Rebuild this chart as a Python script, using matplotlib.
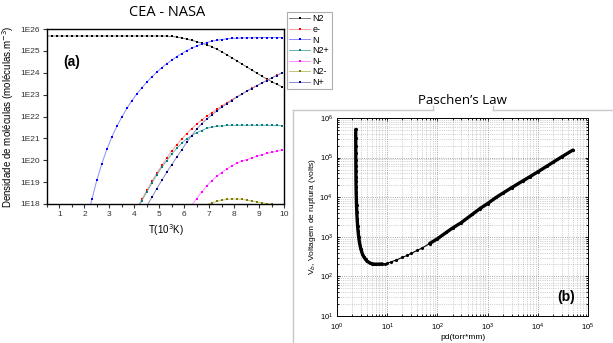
import numpy as np
import matplotlib
matplotlib.use("Agg")
import matplotlib.pyplot as plt
from matplotlib.lines import Line2D
from matplotlib.ticker import FixedLocator, MultipleLocator, FuncFormatter

plt.rcParams['font.family'] = ['Liberation Sans', 'DejaVu Sans']

# ---- (a) CEA - NASA : log10 of densities, markers every 0.2 (10^3 K)
T_grid = np.round(np.arange(0.5, 10.0, 0.2), 1)

n2_log = [25.68, 25.68, 25.68, 25.68, 25.68, 25.68, 25.68, 25.68, 25.68, 25.68,
          25.68, 25.68, 25.68, 25.68, 25.68, 25.68, 25.68, 25.68, 25.68, 25.68,
          25.68, 25.68, 25.68, 25.68, 25.67, 25.66, 25.63, 25.59, 25.54, 25.48,
          25.42, 25.36, 25.28, 25.19, 25.08, 24.96, 24.83, 24.69, 24.55, 24.41,
          24.27, 24.13, 23.99, 23.85, 23.72, 23.60, 23.48, 23.37]
n_log = [17.3, 18.22, 19.1, 19.85, 20.5, 21.07, 21.55, 21.98, 22.37, 22.72,
         23.03, 23.31, 23.57, 23.81, 24.03, 24.23, 24.41, 24.58, 24.74, 24.88,
         25.01, 25.12, 25.22, 25.31, 25.38, 25.44, 25.48, 25.52, 25.55, 25.57,
         25.58, 25.59, 25.6, 25.6, 25.61, 25.61, 25.61, 25.61, 25.61, 25.61]
e_log = [17.8, 18.21, 18.62, 19.03, 19.41, 19.76, 20.11, 20.42, 20.71, 20.97,
         21.22, 21.45, 21.65, 21.84, 22.01, 22.18, 22.33, 22.48, 22.62, 22.76,
         22.9, 23.03, 23.16, 23.29, 23.41, 23.53, 23.65, 23.77, 23.88, 23.99]
n2p_log = [17.75, 18.15, 18.55, 18.95, 19.33, 19.68, 19.98, 20.28, 20.55, 20.78,
           20.98, 21.13, 21.26, 21.36, 21.46, 21.51, 21.55, 21.57, 21.59, 21.6,
           21.6, 21.6, 21.6, 21.6, 21.6, 21.6, 21.6, 21.59, 21.59, 21.58]
np_log = [17.9, 18.3, 18.7, 19.08, 19.45, 19.8, 20.14, 20.48, 20.82, 21.13,
          21.42, 21.67, 21.88, 22.07, 22.25, 22.42, 22.58, 22.73, 22.88, 23.01,
          23.15, 23.28, 23.4, 23.52, 23.64, 23.76, 23.87, 23.98]
nm_log = [17.6, 17.95, 18.25, 18.55, 18.82, 19.06, 19.26, 19.44, 19.6, 19.74,
          19.86, 19.95, 20.03, 20.1, 20.18, 20.25, 20.31, 20.36, 20.41, 20.45]
n2m_log = [17.97, 18.05, 18.12, 18.17, 18.21, 18.23, 18.23, 18.21, 18.18, 18.14,
           18.1, 18.06, 18.02, 17.98, 17.94, 17.9]

species = ['N2', 'e-', 'N', 'N2+', 'N-', 'N2-', 'N+']
series = [n2_log, e_log, n_log, n2p_log, nm_log, n2m_log, np_log]
marker_cols = ['#000000', '#ff0000', '#0000ff', '#008080', '#ff00ff', '#808000', '#000080']
line_cols = ['#7a7a7a', '#ff9a9a', '#8c8cff', '#70b0b0', '#ff8cff', '#c4c480', '#8c8cc4']
ytick_vals = [18, 19, 20, 21, 22, 23, 24, 25, 26]

# ---- (b) Paschen's law
pd_vals = [2.36, 2.362, 2.365, 2.368, 2.372, 2.376, 2.38, 2.385, 2.39, 2.40,
           2.41, 2.43, 2.45, 2.48, 2.52, 2.57, 2.63, 2.7, 2.8, 2.9,
           3.0, 3.2, 3.4, 3.7, 4.0, 4.5, 5.0, 5.5, 6.0, 7.0,
           8.0, 9.0, 10, 12, 15, 20, 25, 30, 40, 50,
           70, 100, 150, 200, 300, 500, 700, 1000, 1500, 2000,
           3000, 5000, 7000, 10000, 15000, 20000, 30000, 50000]
vb_log = [5.71, 5.5, 5.3, 5.12, 4.95, 4.8, 4.66, 4.52, 4.4, 4.25,
          4.12, 3.95, 3.8, 3.62, 3.45, 3.28, 3.14, 3.0, 2.86, 2.76,
          2.68, 2.57, 2.5, 2.43, 2.38, 2.34, 2.32, 2.31, 2.31, 2.31,
          2.315, 2.32, 2.33, 2.37, 2.41, 2.48, 2.53, 2.58, 2.66, 2.72,
          2.83, 2.95, 3.11, 3.22, 3.36, 3.57, 3.71, 3.84, 4.0, 4.1,
          4.24, 4.41, 4.52, 4.64, 4.78, 4.88, 5.02, 5.19]

W, H = 613, 343
fig = plt.figure(figsize=(W / 100, H / 100), dpi=100)

# ---------------- left chart
ax = fig.add_axes([47 / W, 1 - 204 / H, 237 / W, 175 / H])
for name, vals, mc, lc in zip(species, series, marker_cols, line_cols):
    t = T_grid[len(T_grid) - len(vals):]
    ax.plot(t, 10 ** np.array(vals), color=lc, lw=0.7, marker='s', ms=1.6,
            mfc=mc, mec=mc, mew=0, label=name)
ax.set_yscale('log')
ax.set_xlim(0.5, 10)
ax.set_ylim(1e18, 1e26)
ax.yaxis.set_major_locator(FixedLocator([10.0 ** v for v in ytick_vals]))
ax.yaxis.set_minor_locator(FixedLocator([]))
ax.yaxis.set_major_formatter(FuncFormatter(lambda v, p: '1E%d' % round(np.log10(v))))
ax.xaxis.set_major_locator(MultipleLocator(1))
ax.xaxis.set_minor_locator(MultipleLocator(0.5))
ax.tick_params(which='both', labelsize=6, colors='#333333', direction='out',
               length=3, width=0.8, pad=2)
ax.tick_params(which='minor', length=2)
for s in ax.spines.values():
    s.set_linewidth(1.0)
ax.set_xlabel('T(10$^3$K)', fontsize=7, labelpad=3)
ax.set_ylabel('Densidade de moléculas (moléculas.m$^{-3}$)', fontsize=7, labelpad=3)
ax.text(0.07, 0.79, '(a)', transform=ax.transAxes, fontsize=10, fontweight='bold')
fig.text(167 / W, 1 - 13 / H, 'CEA - NASA', ha='center', va='center',
         fontsize=10.5, family=['Open Sans', 'DejaVu Sans'])

handles, labels = ax.get_legend_handles_labels()
leg = fig.legend(handles, labels, loc='upper left', bbox_to_anchor=(287 / W, 1 - 12 / H),
                 fontsize=6.5, frameon=True, fancybox=False, edgecolor='#999999',
                 handlelength=2.3, handletextpad=0.3, labelspacing=0.18,
                 borderpad=0.25, borderaxespad=0)
leg.get_frame().set_linewidth(0.8)
for h in leg.legend_handles:
    h.set_markersize(2)

# ---------------- right panel frame
frame_col = '#c8c8c8'
fig.add_artist(Line2D([293 / W, 293 / W], [0, 1 - 110 / H], color=frame_col, lw=1))
fig.add_artist(Line2D([293 / W, 433 / W], [1 - 110 / H, 1 - 110 / H], color=frame_col, lw=1))
fig.add_artist(Line2D([433 / W, 433 / W], [1 - 110 / H, 1 - 106 / H], color=frame_col, lw=1))
fig.add_artist(Line2D([493 / W, 493 / W], [1 - 106 / H, 1 - 110 / H], color=frame_col, lw=1))
fig.add_artist(Line2D([493 / W, 1], [1 - 110 / H, 1 - 110 / H], color=frame_col, lw=1))
fig.text(462 / W, 1 - 101 / H, 'Paschen\u2019s Law', ha='center', va='center',
         fontsize=9.5, family=['Open Sans', 'DejaVu Sans'])

# ---------------- right chart
bx = fig.add_axes([337 / W, 1 - 316 / H, 251 / W, 198 / H])
pd_arr = np.array(pd_vals)
vb_arr = 10 ** np.array(vb_log)
bx.plot(pd_arr, vb_arr, color='black', lw=0.8, marker='.', ms=2.5)
dense = (pd_arr < 9) | (pd_arr > 60)
bx.plot(np.where(dense, pd_arr, np.nan), np.where(dense, vb_arr, np.nan),
        color='black', lw=2.4, solid_capstyle='round')
bx.set_xscale('log')
bx.set_yscale('log')
bx.set_xlim(1, 1e5)
bx.set_ylim(10, 1e6)
bx.grid(True, which='major', ls=':', color='#888888', lw=0.6)
bx.grid(True, which='minor', ls=':', color='#aaaaaa', lw=0.5)
bx.tick_params(which='both', labelsize=5.5, direction='in', top=True, right=True,
               length=2.5, width=0.6, pad=2)
bx.tick_params(axis='x', which='both', pad=4)
bx.tick_params(axis='y', which='both', pad=3)
bx.tick_params(which='minor', length=1.5)
for s in bx.spines.values():
    s.set_linewidth(0.7)
bx.set_xlabel('pd(torr*mm)', fontsize=6, labelpad=1)
bx.set_ylabel('V$_b$, Voltagem de ruptura (volts)', fontsize=6, labelpad=1)
bx.text(0.912, 0.096, '(b)', transform=bx.transAxes, fontsize=10, fontweight='bold',
        ha='center', va='center')

fig.savefig('out.png', dpi=100)
